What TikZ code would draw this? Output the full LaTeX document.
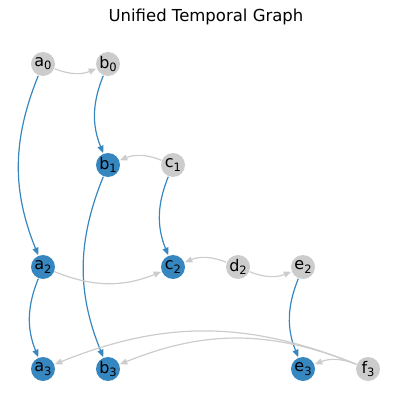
\documentclass[tikz,border=0pt]{standalone}
\usepackage{fontspec}
\setmainfont{DejaVu Sans}
\usetikzlibrary{arrows.meta}
\definecolor{nblue}{HTML}{3686BF}
\definecolor{ngray}{HTML}{CCCCCC}
\newcommand{\lbl}[2]{#1\raisebox{-0.2em}{\fontsize{11.5}{11.5}\selectfont #2}}
\tikzset{
  vtx/.style={circle, inner sep=0pt, minimum size=24pt, font=\fontsize{16}{16}\selectfont},
  act/.style={vtx, fill=nblue},
  idle/.style={vtx, fill=ngray},
  edge/.style={line width=1.2pt, -{Triangle[length=7.5pt,width=6pt]}, bend right=22, shorten <=0.5pt, shorten >=0.5pt},
  bedge/.style={edge, draw=nblue},
  gedge/.style={edge, draw=ngray}
}
\begin{document}
\begin{tikzpicture}[x=1pt,y=1pt]
\useasboundingbox (0,0) rectangle (411,-411);
\node[font=\fontsize{16.5}{16.5}\selectfont] (title) at (206,-17) {Unified Temporal Graph};
\node[idle] (a0) at (43,-64) {\lbl{a}{0}};
\node[idle] (b0) at (108,-64) {\lbl{b}{0}};
\node[act]  (b1) at (108,-165) {\lbl{b}{1}};
\node[idle] (c1) at (173,-165) {\lbl{c}{1}};
\node[act]  (a2) at (43,-267) {\lbl{a}{2}};
\node[act]  (c2) at (173,-267) {\lbl{c}{2}};
\node[idle] (d2) at (238,-267) {\lbl{d}{2}};
\node[idle] (e2) at (303,-267) {\lbl{e}{2}};
\node[act]  (a3) at (43,-369) {\lbl{a}{3}};
\node[act]  (b3) at (108,-369) {\lbl{b}{3}};
\node[act]  (e3) at (303,-369) {\lbl{e}{3}};
\node[idle] (f3) at (368,-369) {\lbl{f}{3}};
\draw[gedge] (a0) to (b0);
\draw[bedge] (a0) to (a2);
\draw[bedge] (b0) to (b1);
\draw[gedge] (c1) to (b1);
\draw[bedge] (c1) to (c2);
\draw[bedge] (b1) to (b3);
\draw[gedge] (a2) to (c2);
\draw[gedge] (d2) to (c2);
\draw[gedge] (d2) to (e2);
\draw[bedge] (a2) to (a3);
\draw[bedge] (e2) to (e3);
\draw[gedge] (f3) to (a3);
\draw[gedge] (f3) to (b3);
\draw[gedge] (f3) to (e3);
\end{tikzpicture}
\end{document}
